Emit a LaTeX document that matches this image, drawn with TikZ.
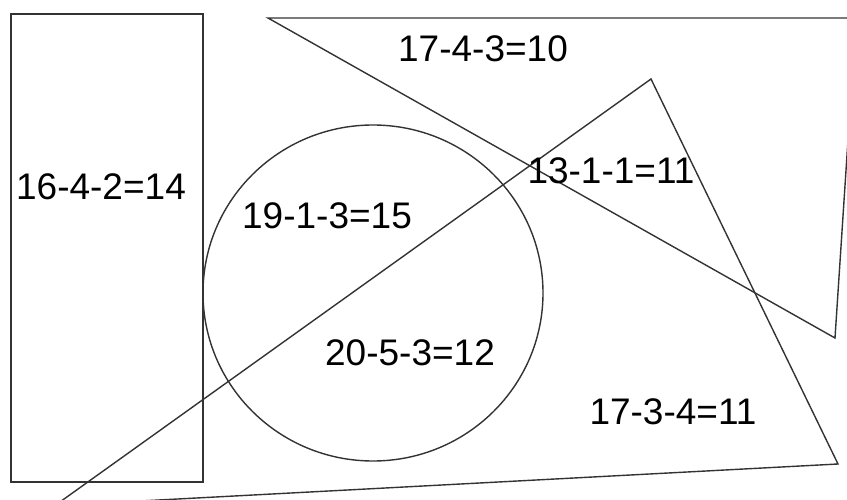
\documentclass[tikz,border=0pt]{standalone}
\usepackage{fontspec}
\setmainfont{Liberation Sans}
\definecolor{linec}{HTML}{333333}
\tikzset{
  shape line/.style={draw=linec, line width=1.4pt, line join=miter},
  eqlabel/.style={font=\fontsize{37}{40}\selectfont, text=black, inner sep=0pt}
}
\begin{document}
\begin{tikzpicture}[x=1pt,y=-1pt]
\useasboundingbox (0,0) rectangle (847,500);
\clip (0,0) rectangle (847,500);
\fill[white] (0,0) rectangle (847,500);
% rectangle
\draw[shape line] (11,14) rectangle (203,482);
% circle
\draw[shape line] (373,293) ellipse [x radius=170, y radius=168];
% upper triangle
\coordinate (ua) at (268,18);
\coordinate (ub) at (856,18);
\coordinate (uc) at (835,338);
\draw[shape line] (ua) -- (ub) -- (uc) -- cycle;
% lower triangle
\coordinate (la) at (651,79);
\coordinate (lb) at (838,464);
\coordinate (lc) at (55,505.5);
\draw[shape line] (la) -- (lb) -- (lc) -- cycle;
% labels
\node[eqlabel] (t1) at (101,187) {16-4-2=14};
\node[eqlabel] (t2) at (483,49) {17-4-3=10};
\node[eqlabel] (t3) at (611,171) {13-1-1=11};
\node[eqlabel] (t4) at (327,216) {19-1-3=15};
\node[eqlabel] (t5) at (410,353) {20-5-3=12};
\node[eqlabel] (t6) at (673,412) {17-3-4=11};
\end{tikzpicture}
\end{document}
